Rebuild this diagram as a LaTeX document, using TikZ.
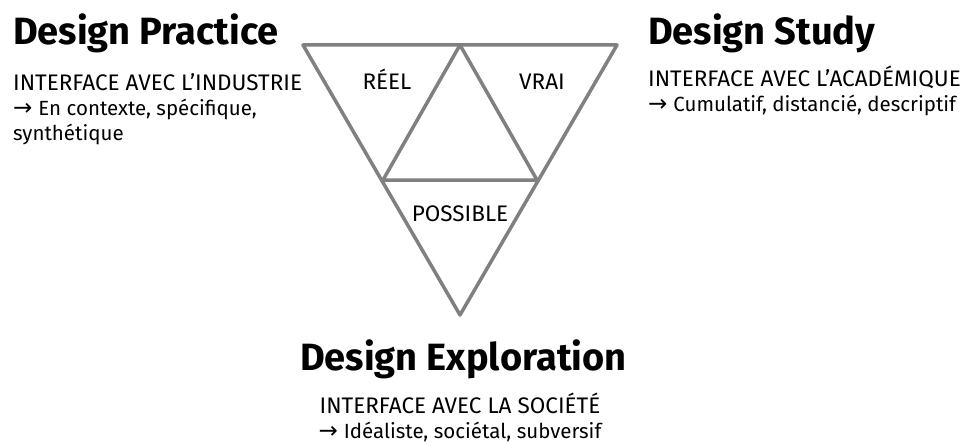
\documentclass[tikz,border=0pt]{standalone}
\usepackage{fontspec}
\setmainfont{Fira Sans}
\newfontfamily\arrowfont{DejaVu Sans}
\tikzset{
  edge/.style={draw=black!50, line width=3.5pt, line join=round},
  title/.style={anchor=base west, inner sep=0pt, font=\bfseries\fontsize{38}{38}\selectfont},
  info/.style={anchor=base west, inner sep=0pt, align=left, font=\fontsize{22.5}{25}\selectfont},
  field/.style={anchor=base, inner sep=0pt, font=\fontsize{22.5}{25}\selectfont}
}
\newcommand{\toarrow}{{\arrowfont\fontsize{23}{23}\selectfont →}}
\newcommand{\detail}[1]{{\fontsize{20.5}{25}\selectfont #1}}
\begin{document}
\begin{tikzpicture}[x=1pt, y=-1pt]
  \useasboundingbox (0,0) rectangle (970,444);
  % triangle
  \coordinate (tl) at (303,45);
  \coordinate (tm) at (460,45);
  \coordinate (tr) at (617,45);
  \coordinate (ml) at (383,180);
  \coordinate (mr) at (537,180);
  \coordinate (bot) at (460,315);
  \draw[edge] (tl) -- (tr) -- (bot) -- cycle;
  \draw[edge] (ml) -- (tm) -- (mr) -- cycle;
  \node[field] (reel) at (387,90) {RÉEL};
  \node[field] (vrai) at (542,90) {VRAI};
  \node[field] (possible) at (460,221) {POSSIBLE};
  % the three poles (info nodes sit on their last line)
  \node[title] (practice) at (13,45) {Design Practice};
  \node[info] (industrie) at (13,140) {INTERFACE AVEC L’INDUSTRIE\\\toarrow\ \detail{En contexte, spécifique,}\\\detail{synthétique}};
  \node[title] (study) at (648,45) {Design Study};
  \node[info] (academique) at (648,112) {INTERFACE AVEC L’ACADÉMIQUE\\\toarrow\ \detail{Cumulatif, distancié, descriptif}};
  \node[title] (exploration) at (300,370) {Design Exploration};
  \node[info, align=center, anchor=base] (societe) at (460,438) {INTERFACE AVEC LA SOCIÉTÉ\\\toarrow\ \detail{Idéaliste, sociétal, subversif}};
\end{tikzpicture}
\end{document}
